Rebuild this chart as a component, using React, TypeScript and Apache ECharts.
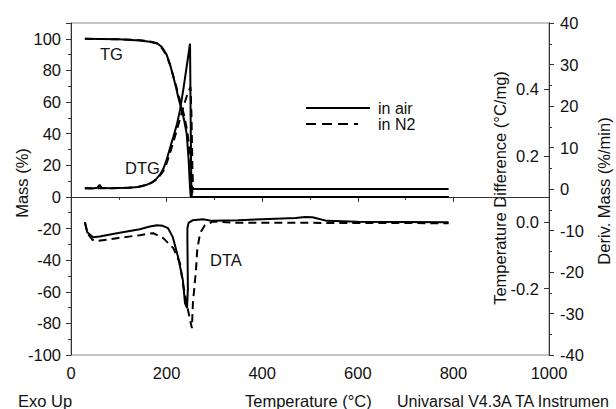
import React, { useEffect, useRef } from "react";
import * as echarts from "echarts";

// ---- Data (temperature °C, value) ----
const tgAir: [number, number][] = [
  [29, 100], [60, 99.9], [100, 99.7], [144, 99], [165, 98.2], [180, 97.2], [190, 94.8],
  [200, 90], [207, 84], [214, 76], [220, 69], [224, 63.5], [228, 59], [232, 55],
  [237, 48], [242, 40], [246, 24], [249, 6], [250.5, 0], [790, 0],
];
const tgN2: [number, number][] = [
  [29, 100], [60, 99.9], [100, 99.7], [144, 99.1], [165, 98.3], [180, 97], [190, 94.2],
  [200, 89.5], [207, 83.5], [214, 76.5], [220, 70], [226, 63], [232, 57],
  [238, 50], [244, 40], [249, 26], [252, 10], [254.5, 0], [790, 0],
];
const dtgAir: [number, number][] = [
  [29, 0.2], [45, 0.1], [55, 0.3], [60, 1.0], [64, 0.3], [80, 0.2], [120, 0.3],
  [140, 0.5], [150, 0.8], [160, 1.1], [170, 1.6], [180, 2.6], [187, 3.6], [193, 4.8],
  [200, 7], [207, 9.8], [214, 12.5], [222, 15.8], [228, 19], [235, 24], [242, 29.5],
  [249, 35], [250.5, 15], [252, -2], [254, 0], [790, 0],
];
const dtgN2: [number, number][] = [
  [29, 0.2], [80, 0.2], [120, 0.3], [140, 0.5], [160, 1], [180, 2.3], [193, 4.3],
  [200, 6.2], [207, 8.6], [214, 11.3], [222, 14.4], [228, 16.9], [235, 19.8],
  [242, 22.3], [250, 24.6], [252, 18], [254, 5], [255.5, 0], [790, 0],
];
const dtaAir: [number, number][] = [
  [29, 0], [34, -0.03], [46, -0.045], [60, -0.043], [96, -0.033], [144, -0.021],
  [165, -0.013], [180, -0.009], [192, -0.011], [203, -0.018], [213, -0.045],
  [224, -0.105], [234, -0.174], [238.5, -0.244], [242.7, -0.259], [244.5, -0.2],
  [244, -0.12], [243.5, -0.05], [243.5, -0.018], [246, -0.002], [255, 0.006],
  [276, 0.009], [295, 0.004], [350, 0.006], [400, 0.009], [470, 0.013], [490, 0.016],
  [505, 0.015], [535, 0.004], [600, 0.001], [790, 0],
];
const dtaN2: [number, number][] = [
  [29, 0], [35, -0.035], [45, -0.053], [54, -0.057], [96, -0.048], [144, -0.039],
  [172, -0.033], [193, -0.048], [214, -0.078], [228, -0.123], [234, -0.184],
  [242, -0.244], [249, -0.295], [253, -0.319], [255, -0.244], [261.5, -0.144],
  [264, -0.084], [270, -0.033], [280, -0.009], [297, 0.002], [350, -0.002],
  [500, -0.002], [790, -0.003],
];
const legendNames = ["in air", "in N2"];

const FONT = "Liberation Sans, Arial, Helvetica, sans-serif";
const FS = 16.5;
const TXT = "#111";

export default function App() {
  const ref = useRef<HTMLDivElement>(null);
  useEffect(() => {
    if (!ref.current) return;
    const chart = echarts.init(ref.current, undefined, { renderer: "svg" });
    const solid = { color: "#000", width: 2, type: "solid" as const };
    const dashed = { color: "#000", width: 2, type: [8, 5] as any };
    const mk = (name: string, data: [number, number][], yIdx: number, ls: any) => ({
      name, type: "line", data, yAxisIndex: yIdx, showSymbol: false, symbol: "none",
      lineStyle: ls, itemStyle: { color: "#000" }, silent: true,
    });
    const axisCommon = {
      axisLine: { show: true, lineStyle: { color: "#333", width: 1 } },
      axisTick: { show: true, length: 5, lineStyle: { color: "#333" } },
      minorTick: { show: true, splitNumber: 2, length: 3, lineStyle: { color: "#333" } },
      splitLine: { show: false },
      axisLabel: { fontSize: FS, color: TXT, fontFamily: FONT },
    };
    const txt = (x: number, y: number, text: string, extra: any = {}, size = FS) => ({
      type: "text", x, y, silent: true, ...extra,
      style: {
        text, fill: TXT, font: `${size}px ${FONT}`, verticalAlign: "middle", textVerticalAlign: "middle",
        align: extra.align || "left", textAlign: extra.align || "left",
      },
    });
    const rot = { rotation: Math.PI / 2, align: "center" };
    chart.setOption({
      animation: false,
      textStyle: { fontFamily: FONT },
      grid: {
        left: 71, right: 67, top: 23, bottom: 54, show: true, borderColor: "#888", borderWidth: 1,
        containLabel: false, outerBoundsMode: "none",
      },
      xAxis: {
        type: "value", min: 0, max: 1000, interval: 200, ...axisCommon,
        axisLabel: { ...axisCommon.axisLabel, margin: 9, formatter: (v: number) => String(v) },
      },
      yAxis: [
        {
          type: "value", position: "left", min: -100, max: 110, interval: 20, ...axisCommon,
          axisLabel: { ...axisCommon.axisLabel, margin: 10, showMaxLabel: false },
        },
        {
          type: "value", position: "right", min: -0.4, max: 0.6, interval: 0.2, ...axisCommon,
          axisTick: { ...axisCommon.axisTick, inside: true },
          minorTick: { show: false },
          axisLabel: {
            ...axisCommon.axisLabel, inside: true, margin: 10, showMaxLabel: false, showMinLabel: false,
            formatter: (v: number) => v.toFixed(1),
          },
        },
        {
          type: "value", position: "right", min: -40, max: 40, interval: 10, ...axisCommon,
          axisLabel: { ...axisCommon.axisLabel, margin: 11 },
        },
      ],
      graphic: [
        txt(100, 54, "TG"),
        txt(125, 168, "DTG"),
        txt(210, 260, "DTA"),
        txt(18, 401, "Exo Up"),
        txt(245, 401, "Temperature (°C)"),
        txt(397, 401, "Univarsal V4.3A TA Instrumen", {}, 16),
        txt(22, 183, "Mass (%)", rot),
        txt(500, 188, "Temperature Difference (°C/mg)", rot),
        txt(604, 191, "Deriv. Mass (%/min)", rot),
        { type: "line", silent: true, shape: { x1: 306, y1: 108, x2: 370, y2: 108 }, style: { stroke: "#000", lineWidth: 2 } },
        { type: "line", silent: true, shape: { x1: 306, y1: 124, x2: 358, y2: 124 }, style: { stroke: "#000", lineWidth: 2, lineDash: [10, 6] } },
        txt(378, 108, legendNames[0], {}, 16),
        txt(378, 124.5, legendNames[1], {}, 16),
      ],
      series: [
        mk(legendNames[0], tgAir, 0, solid),
        mk(legendNames[1], tgN2, 0, dashed),
        mk(legendNames[0], dtgAir, 2, solid),
        mk(legendNames[1], dtgN2, 2, dashed),
        mk(legendNames[0], dtaAir, 1, solid),
        mk(legendNames[1], dtaN2, 1, dashed),
      ],
    });
    return () => chart.dispose();
  }, []);
  return (
    <div
      ref={ref}
      style={{ position: "absolute", left: 0, top: 0, width: 616, height: 409, background: "#fff", overflow: "hidden" }}
    />
  );
}
